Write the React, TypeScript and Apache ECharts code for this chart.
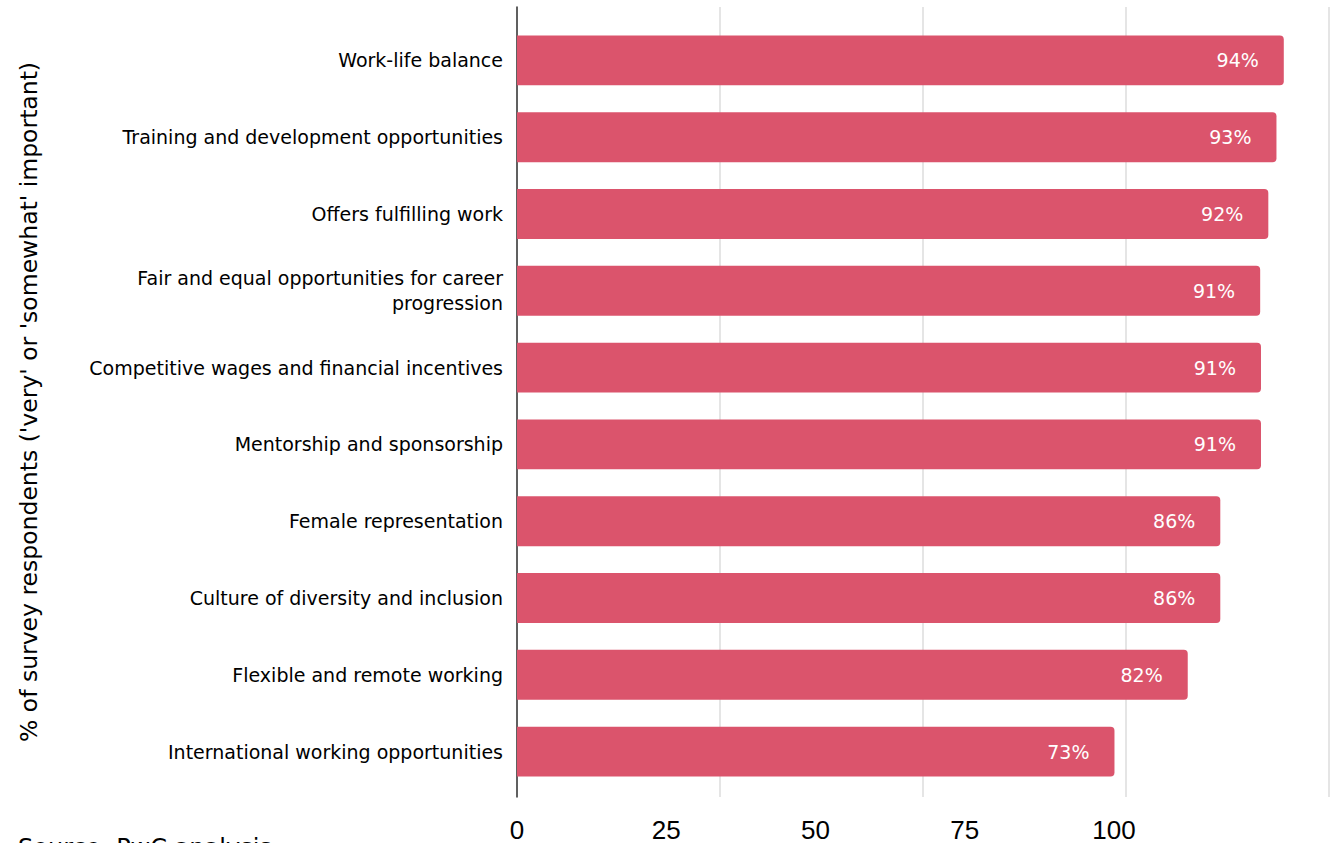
import React, { useEffect, useRef } from "react";
import * as echarts from "echarts";

const categories = [
  "Work-life balance",
  "Training and development opportunities",
  "Offers fulfilling work",
  "Fair and equal opportunities for career\nprogression",
  "Competitive wages and financial incentives",
  "Mentorship and sponsorship",
  "Female representation",
  "Culture of diversity and inclusion",
  "Flexible and remote working",
  "International working opportunities",
];
const values = [94.2, 93.3, 92.3, 91.3, 91.4, 91.4, 86.4, 86.4, 82.4, 73.4];
const tickLabels = ["0", "25", "50", "75", "100"];
const yTitle = "% of survey respondents ('very' or 'somewhat' important)";
const source = "Source: PwC analysis";

const FONT = "'DejaVu Sans', sans-serif";

export default function App() {
  const ref = useRef<HTMLDivElement>(null);
  useEffect(() => {
    if (!ref.current) return;
    const chart = echarts.init(ref.current, undefined, { renderer: "svg" });
    chart.setOption({
      animation: false,
      backgroundColor: "#ffffff",
      grid: [
        { left: 517, right: 1, top: 22, height: 768, containLabel: false },
        { left: 517, right: 1, top: 7, height: 792, containLabel: false },
      ],
      xAxis: [
        {
          gridIndex: 0,
          type: "value",
          min: 0,
          max: 100,
          show: false,
        },
        {
          gridIndex: 1,
          type: "value",
          min: 0,
          max: 100,
          interval: 25,
          axisLine: { show: false },
          axisTick: { show: false },
          axisLabel: { show: false },
          splitLine: { show: true, lineStyle: { color: "#dddddd", width: 1.5 } },
        },
        {
          gridIndex: 1,
          type: "value",
          position: "bottom",
          min: 0,
          max: 136,
          interval: 25,
          axisLine: { show: false },
          axisTick: { show: false },
          splitLine: { show: false },
          axisLabel: {
            show: true,
            margin: 20,
            fontSize: 26,
            color: "#000000",
            fontFamily: "'Liberation Sans', sans-serif",
            formatter: (v: number) => {
              const i = Math.round(v / 25);
              return i < tickLabels.length ? tickLabels[i] : "";
            },
          },
        },
      ],
      yAxis: [
        {
          gridIndex: 0,
          type: "category",
          data: categories,
          inverse: true,
          axisLine: { show: false },
          axisTick: { show: false },
          splitLine: { show: false },
          axisLabel: {
            margin: 14,
            fontSize: 19,
            lineHeight: 25,
            color: "#000000",
            fontFamily: FONT,
            align: "right",
          },
        },
        {
          gridIndex: 1,
          type: "value",
          min: 0,
          max: 1,
          axisLine: { show: true, lineStyle: { color: "#333333", width: 1.5 } },
          axisTick: { show: false },
          axisLabel: { show: false },
          splitLine: { show: false },
          name: yTitle,
          nameLocation: "middle",
          nameRotate: 90,
          nameGap: 476,
          nameTextStyle: { fontSize: 23.5, color: "#000000", fontFamily: FONT },
        },
      ],
      graphic: [
        {
          type: "text",
          left: 18,
          top: 836,
          style: { text: source, fontSize: 24, fill: "#000000", fontFamily: FONT },
        },
      ],
      series: [
        {
          type: "bar",
          xAxisIndex: 0,
          yAxisIndex: 0,
          data: values,
          barCategoryGap: "35%",
          itemStyle: { color: "#DB546C", borderRadius: [0, 4, 4, 0] },
          label: {
            show: true,
            position: "insideRight",
            distance: 25,
            color: "#ffffff",
            fontSize: 19,
            fontFamily: FONT,
            formatter: (p: any) => `${Math.round(p.value)}%`,
          },
        },
      ],
    });
    return () => chart.dispose();
  }, []);
  return (
    <div
      ref={ref}
      style={{ position: "fixed", left: 0, top: 0, width: 1332, height: 843 }}
    />
  );
}
